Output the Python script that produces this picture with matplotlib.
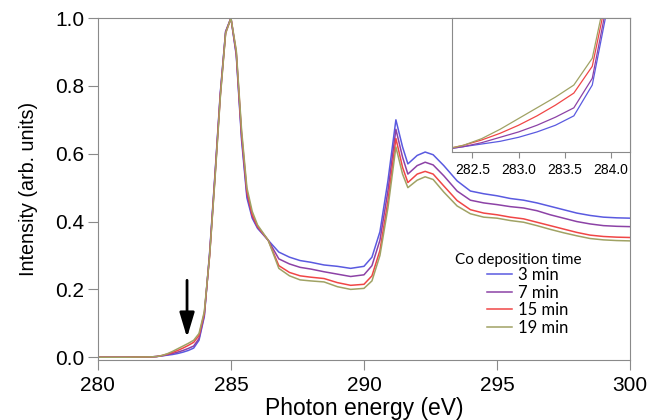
import numpy as np
import matplotlib.pyplot as plt

# photon energy grid (eV)
energy = [280.0, 281.0, 282.0, 282.2, 282.4, 282.6, 282.8, 283.0, 283.2, 283.4,
          283.6, 283.8, 284.0, 284.2, 284.4, 284.6, 284.8, 285.0, 285.2, 285.4,
          285.6, 285.8, 286.0, 286.4, 286.8, 287.2, 287.6, 288.0, 288.5, 289.0,
          289.5, 290.0, 290.3, 290.6, 290.9, 291.2, 291.45, 291.65, 292.0, 292.3,
          292.6, 293.0, 293.5, 294.0, 294.5, 295.0, 295.5, 296.0, 296.5, 297.0,
          297.5, 298.0, 298.5, 299.0, 299.5, 300.0]

min3 = [0.0, 0.0, 0.001, 0.002, 0.004, 0.006, 0.008, 0.011, 0.015, 0.020,
        0.027, 0.050, 0.120, 0.31, 0.54, 0.78, 0.96, 1.0, 0.89, 0.64,
        0.47, 0.41, 0.38, 0.345, 0.31, 0.295, 0.285, 0.28, 0.272, 0.268,
        0.262, 0.268, 0.295, 0.37, 0.52, 0.70, 0.62, 0.57, 0.595, 0.605,
        0.597, 0.565, 0.52, 0.49, 0.482, 0.476, 0.468, 0.463, 0.455, 0.445,
        0.435, 0.425, 0.418, 0.413, 0.411, 0.41]

min7 = [0.0, 0.0, 0.001, 0.002, 0.004, 0.007, 0.011, 0.015, 0.020, 0.026,
        0.033, 0.055, 0.125, 0.305, 0.535, 0.775, 0.96, 1.0, 0.895, 0.65,
        0.48, 0.415, 0.383, 0.345, 0.29, 0.275, 0.265, 0.26, 0.252, 0.245,
        0.238, 0.243, 0.27, 0.345, 0.49, 0.672, 0.59, 0.54, 0.565, 0.575,
        0.567, 0.535, 0.49, 0.463, 0.455, 0.45, 0.444, 0.44, 0.432, 0.42,
        0.41, 0.40, 0.393, 0.388, 0.386, 0.385]

min15 = [0.0, 0.0, 0.001, 0.002, 0.005, 0.009, 0.014, 0.020, 0.027, 0.035,
         0.044, 0.064, 0.130, 0.30, 0.53, 0.77, 0.955, 1.0, 0.90, 0.66,
         0.49, 0.42, 0.386, 0.345, 0.27, 0.25, 0.24, 0.236, 0.232, 0.22,
         0.212, 0.215, 0.24, 0.315, 0.46, 0.645, 0.56, 0.515, 0.54, 0.548,
         0.54, 0.505, 0.462, 0.435, 0.425, 0.42, 0.413, 0.408, 0.398, 0.388,
         0.378, 0.368, 0.36, 0.356, 0.354, 0.353]

min19 = [0.0, 0.0, 0.001, 0.002, 0.005, 0.010, 0.017, 0.025, 0.033, 0.041,
         0.050, 0.070, 0.135, 0.30, 0.525, 0.765, 0.955, 1.0, 0.905, 0.67,
         0.50, 0.43, 0.39, 0.345, 0.262, 0.24, 0.228, 0.225, 0.222, 0.208,
         0.200, 0.203, 0.225, 0.30, 0.44, 0.62, 0.54, 0.50, 0.522, 0.532,
         0.524, 0.487, 0.446, 0.423, 0.413, 0.41, 0.403, 0.398, 0.388, 0.377,
         0.367, 0.358, 0.35, 0.346, 0.344, 0.343]

labels = ['3 min', '7 min', '15 min', '19 min']
colors = ['#5a5ae0', '#8c42a6', '#f04646', '#a0a264']
series = [min3, min7, min15, min19]

plt.rcParams['font.family'] = ['Liberation Sans', 'DejaVu Sans']
gray = '#8a8a8a'

fig = plt.figure(figsize=(6.66, 4.2), dpi=100)
ax = fig.add_axes([0.147, 0.143, 0.799, 0.814])

for y, c, l in zip(series, colors, labels):
    ax.plot(energy, y, color=c, lw=1.1, label=l)

ax.set_xlim(280, 300)
ax.set_ylim(-0.008, 1.0)
ax.set_xticks([280, 285, 290, 295, 300])
ax.set_yticks([0.0, 0.2, 0.4, 0.6, 0.8, 1.0])
ax.set_yticklabels(['0.0', '0.2', '0.4', '0.6', '0.8', '1.0'])
for s in ax.spines.values():
    s.set_color(gray)
ax.tick_params(direction='out', length=7, color=gray, labelsize=15)
ax.tick_params(axis='x', pad=4.5)
ax.tick_params(axis='y', pad=3)
ax.set_xlabel('Photon energy (eV)', fontsize=16.5)
ax.xaxis.set_label_coords(0.5, -0.108)
ax.set_ylabel('Intensity (arb. units)', fontsize=14.2)
ax.yaxis.set_label_coords(-0.112, 0.5)

ax.annotate('', xy=(283.35, 0.05), xytext=(283.35, 0.235),
            arrowprops=dict(arrowstyle='-|>,head_width=0.45,head_length=1.5',
                            color='black', lw=2))

ax.text(0.789, 0.292, 'Co deposition time', transform=ax.transAxes,
        ha='center', va='center', family='Lato', fontsize=11)
ax.legend(frameon=False, loc='upper left', bbox_to_anchor=(0.731, 0.272),
          borderpad=0, borderaxespad=0,
          prop={'family': 'Lato', 'size': 12},
          handlelength=1.5, handletextpad=0.36, labelspacing=0.1)

ins = fig.add_axes([0.679, 0.638, 0.267, 0.319])
for y, c in zip(series, colors):
    ins.plot(energy, y, color=c, lw=0.9)
ins.set_xlim(282.28, 284.21)
ins.set_ylim(0, 0.1)
ins.set_xticks([282.5, 283.0, 283.5, 284.0])
ins.set_xticklabels(['282.5', '283.0', '283.5', '284.0'])
ins.set_yticks([])
for s in ins.spines.values():
    s.set_color(gray)
ins.tick_params(direction='out', length=4, color=gray, labelsize=10, pad=4)

fig.savefig('out.png', dpi=100)
